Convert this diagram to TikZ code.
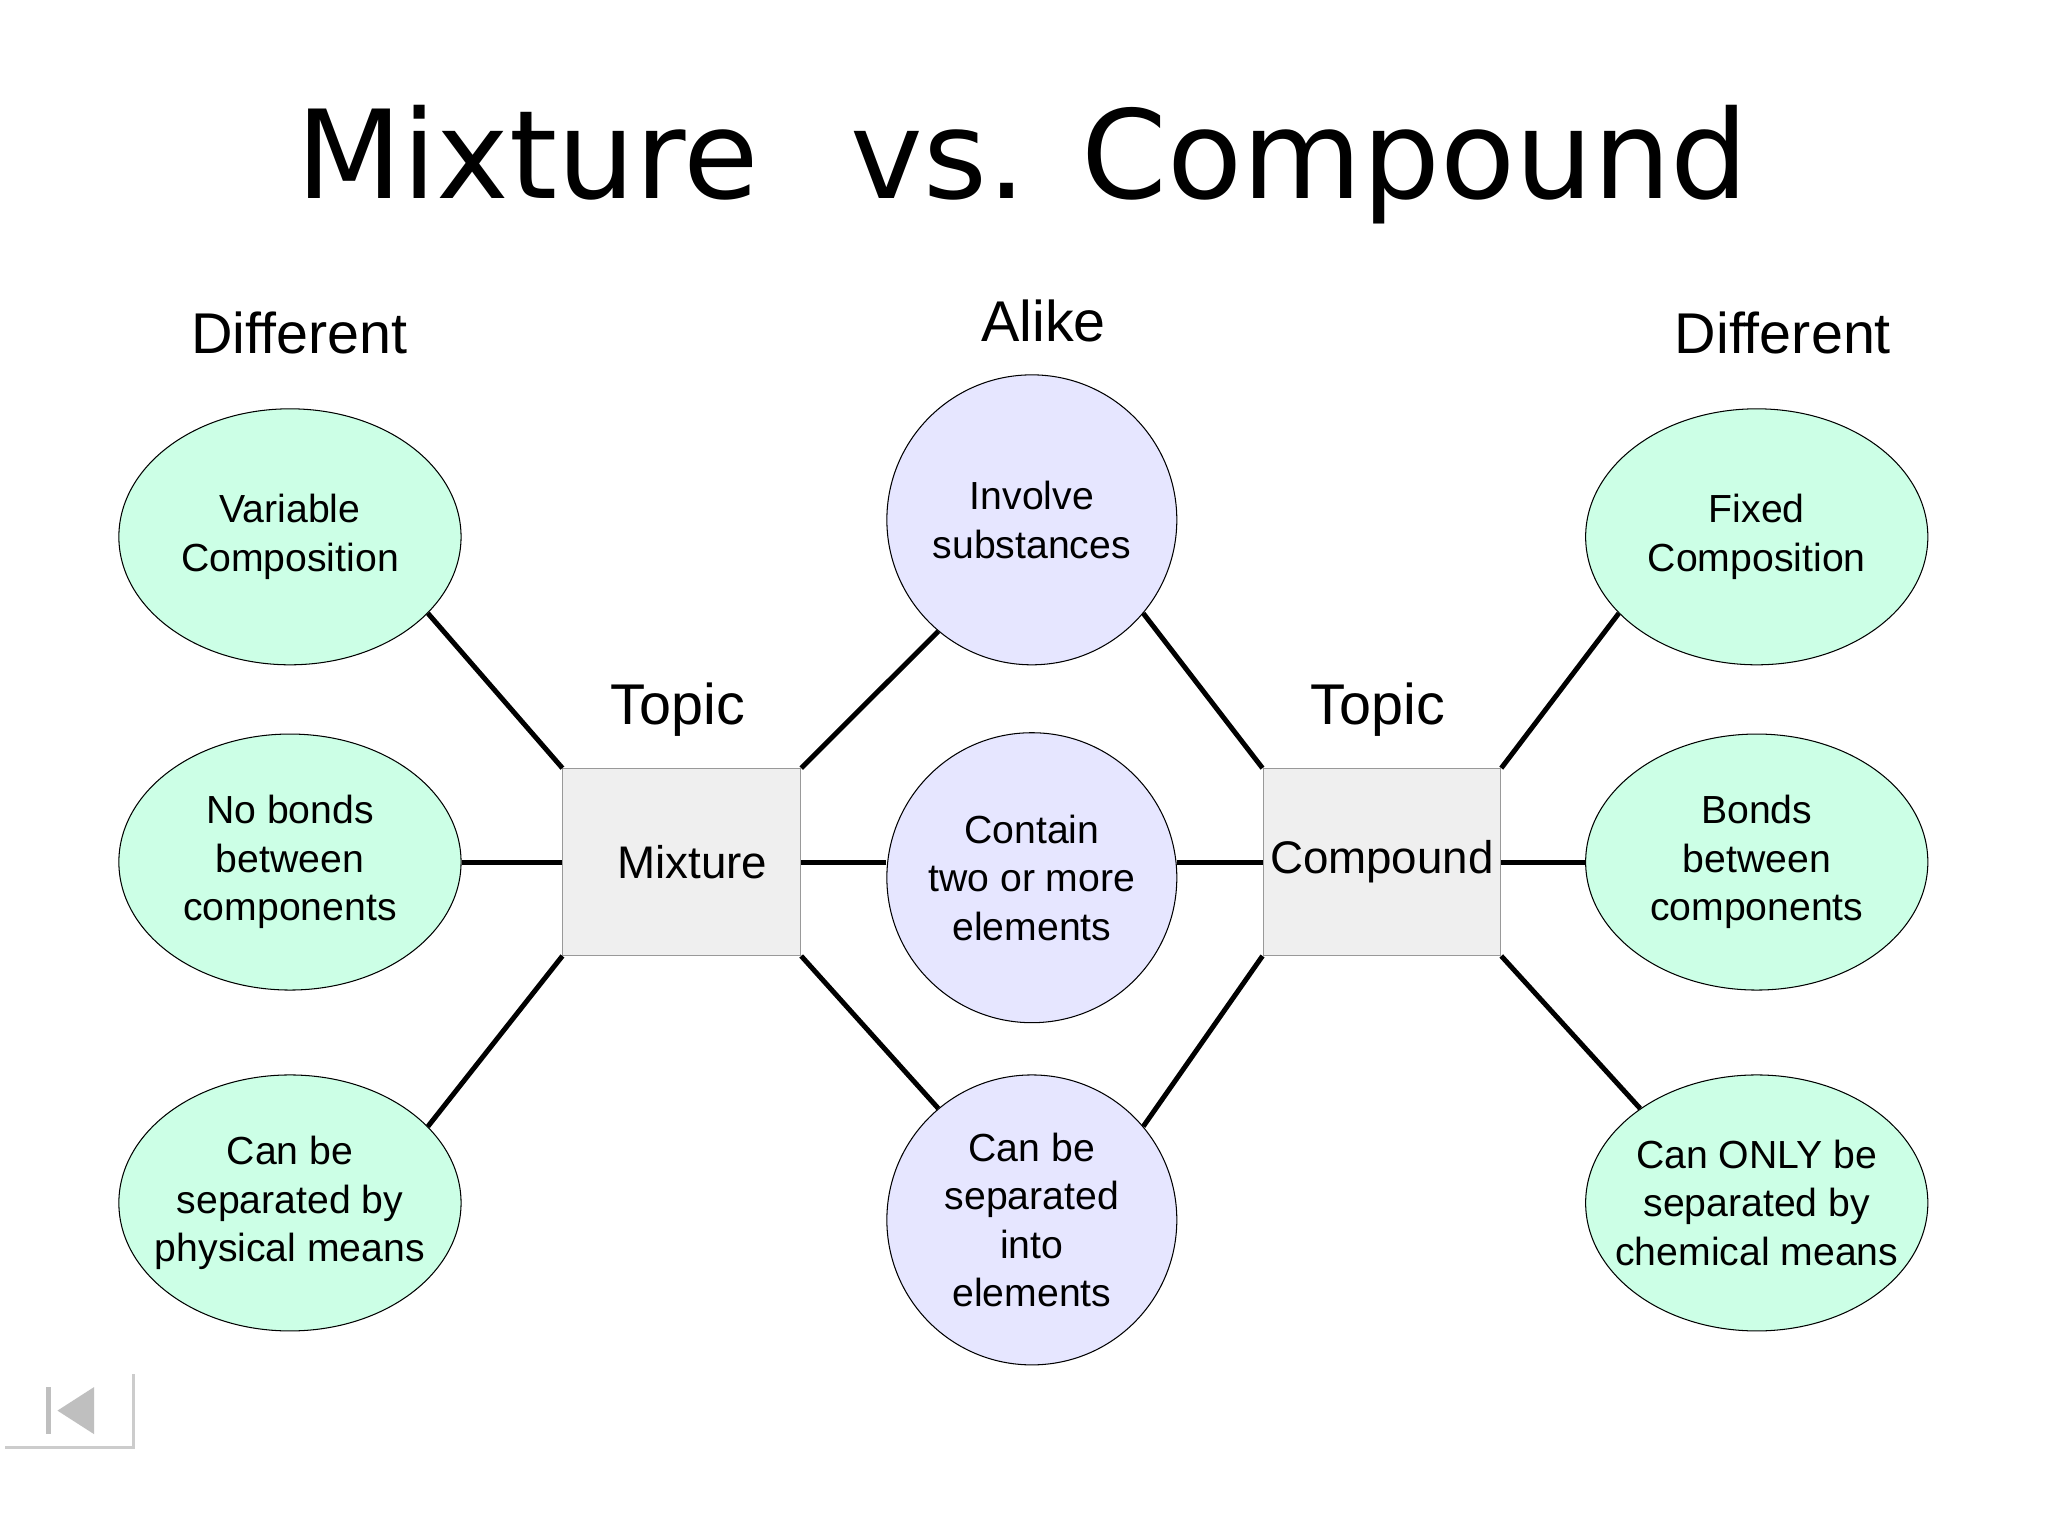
\documentclass[tikz,border=0pt]{standalone}
\usepackage{fontspec}
\setmainfont{Liberation Sans}
\newfontfamily\titlefont{DejaVu Sans}
\usetikzlibrary{shapes.geometric}
\definecolor{green1}{HTML}{CCFFE6}
\definecolor{blue1}{HTML}{E6E6FF}
\definecolor{box1}{HTML}{EFEFEF}
\tikzset{
 ell/.style={ellipse,draw,fill=green1,minimum width=262pt/2,minimum height=196pt/2,inner sep=0pt},
 circ/.style={circle,draw,fill=blue1,minimum size=222pt/2,inner sep=0pt},
 txt/.style={align=center,font=\fontsize{15}{18.5}\selectfont},
 box/.style={rectangle,draw=gray!80,fill=box1,minimum width=182pt/2,minimum height=143pt/2,inner sep=0pt,font=\fontsize{17.5}{20}\selectfont},
 hdr/.style={font=\fontsize{22}{26}\selectfont},
 conn/.style={line width=1.9pt}
}
\begin{document}
\begin{tikzpicture}[x=0.5pt,y=-0.5pt]
\useasboundingbox (0,0) rectangle (1568,1176);
\fill[white] (0,0) rectangle (1568,1176);
\node[font=\titlefont\fontsize{47}{52}\selectfont] (title) at (783,126) {Mixture\hspace{0.75em}vs.\hspace{0.45em}Compound};
\node[hdr] (d1) at (229,255) {Different};
\node[hdr] (al) at (799,246) {Alike};
\node[hdr] (d2) at (1365,255) {Different};
\node[hdr] (t1) at (519,543) {Topic};
\node[hdr] (t2) at (1055,543) {Topic};
\node[ell] (v1) at (222,411) {};
\node[ell] (v2) at (222,660) {};
\node[ell] (v3) at (222,921) {};
\node[ell] (w1) at (1345,411) {};
\node[ell] (w2) at (1345,660) {};
\node[ell] (w3) at (1345,921) {};
\node[circ] (c1) at (790,398) {};
\node[circ] (c2) at (790,672) {};
\node[circ] (c3) at (790,934) {};
\node[txt] (v1t) at (v1) {Variable\\Composition};
\node[txt] (v2t) at (v2) {No bonds\\between\\components};
\node[txt] (v3t) at (v3) {Can be\\separated by\\physical means};
\node[txt] (w1t) at (w1) {Fixed\\Composition};
\node[txt] (w2t) at (w2) {Bonds\\between\\components};
\node[txt] (w3t) at (w3) {Can ONLY be\\separated by\\chemical means};
\node[txt] (c1t) at (c1) {Involve\\substances};
\node[txt] (c2t) at (c2) {Contain\\two or more\\elements};
\node[txt] (c3t) at (c3) {Can be\\separated\\into\\elements};
\node[box] (mix) at (522,660) {\hspace{8pt}Mixture};
\node[box] (cmp) at (1058,660) {Compound};
\draw[conn] (mix.north west) -- (v1.-29);
\draw[conn] (mix.west |- v2) -- (v2.east);
\draw[conn] (mix.south west) -- (v3.29);
\draw[conn] (mix.north east) -- (c1.230);
\draw[conn] (mix.east |- v2) -- (c2.west |- v2);
\draw[conn] (mix.south east) -- (c3.130);
\draw[conn] (cmp.north west) -- (c1.-40);
\draw[conn] (c2.east |- v2) -- (cmp.west |- v2);
\draw[conn] (cmp.south west) -- (c3.40);
\draw[conn] (cmp.north east) -- (w1.209.6);
\draw[conn] (cmp.east |- v2) -- (w2.west);
\draw[conn] (cmp.south east) -- (w3.141.7);
% navigation icon
\draw[gray!40,line width=1pt] (102,1052) -- (102,1108) -- (4,1108);
\fill[gray!50] (35,1062) rectangle (39,1098);
\fill[gray!50] (72,1062) -- (72,1098) -- (44,1080) -- cycle;
\end{tikzpicture}
\end{document}
